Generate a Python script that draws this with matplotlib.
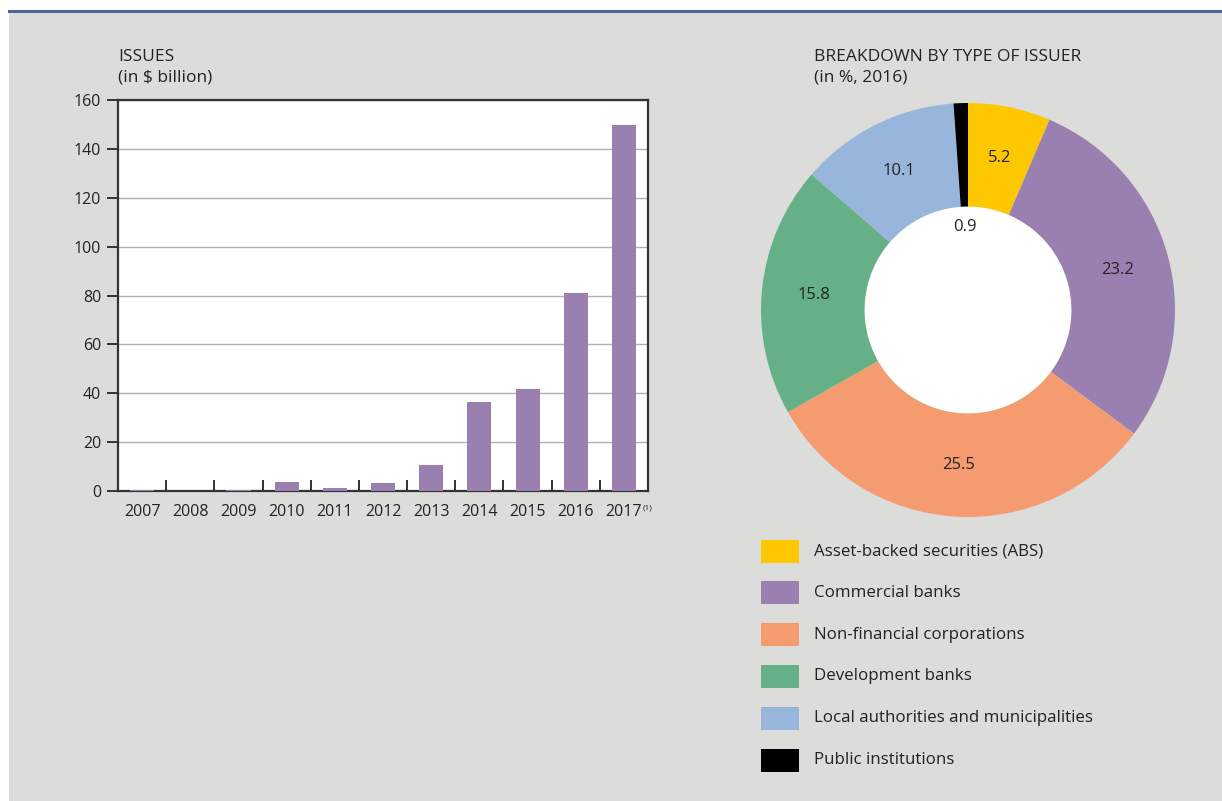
import matplotlib
matplotlib.use("Agg")
import matplotlib.pyplot as plt
from matplotlib.patches import Rectangle, Circle
from matplotlib.lines import Line2D
import numpy as np

plt.rcParams["font.family"] = ["Open Sans", "DejaVu Sans"]

# emissions annuelles (Md$)
years = ["2007", "2008", "2009", "2010", "2011", "2012", "2013", "2014", "2015", "2016", "2017"]
issues = [0.6, 0.1, 0.6, 3.6, 1.1, 3.2, 10.8, 36.5, 41.8, 80.9, 149.9]

# repartition 2016 par type d'emetteur
issuer_types = ["Asset-backed securities (ABS)", "Commercial banks", "Non-financial corporations",
                "Development banks", "Local authorities and municipalities", "Public institutions"]
shares = [5.2, 23.2, 25.5, 15.8, 10.1, 0.9]
share_labels = ["5.2", "23.2", "25.5", "15.8", "10.1", "0.9"]
colors = ["#fec800", "#9a80b0", "#f49c70", "#66b087", "#98b6db", "#000000"]

BG = "#dcdcdb"
TXT = "#222222"
W, H = 1222, 801

fig = plt.figure(figsize=(W / 100, H / 100), dpi=100)
fig.patch.set_facecolor("white")
fig.patches.append(Rectangle((9 / W, 0), 1, 1 - 12 / H, transform=fig.transFigure,
                             facecolor=BG, edgecolor="none", zorder=-10))
fig.lines.append(Line2D([9 / W, 1], [1 - 11 / H, 1 - 11 / H], transform=fig.transFigure,
                        color="#4a6797", lw=2.2))

# --- barres ---
ax = fig.add_axes([118 / W, 1 - 491 / H, 530 / W, 391 / H])
ax.set_facecolor("white")
x = list(range(len(years)))
ax.bar(x, issues, width=0.5, color=colors[1], zorder=3)
ax.set_xlim(-0.5, len(years) - 0.5)
ax.set_ylim(0, 160)
ax.set_yticks(range(0, 161, 20))
ax.yaxis.grid(True, color="#b0b0b0", lw=1)
ax.set_axisbelow(True)
for s in ax.spines.values():
    s.set_color("#333333")
    s.set_linewidth(1.6)
ax.tick_params(axis="y", direction="out", length=8, width=1.4, color="#333333",
               labelsize=11.5, labelcolor=TXT, pad=4)
ax.set_xticks(x)
ax.set_xticklabels(years)
ax.tick_params(axis="x", length=0, labelsize=11.5, labelcolor=TXT, pad=9)
ax.set_xticks([i + 0.5 for i in x[:-1]], minor=True)
ax.tick_params(axis="x", which="minor", direction="in", length=8, width=1.4, color="#333333")
ax.text(x[-1] + 0.38, -0.043, "(1)", transform=ax.get_xaxis_transform(),
        fontsize=6, color=TXT, va="center", ha="left")

fig.text(118 / W, 1 - 57 / H, "ISSUES", fontsize=12.5, color=TXT, va="center")
fig.text(118 / W, 1 - 77 / H, "(in $ billion)", fontsize=12.5, color=TXT, va="center")

# --- anneau ---
pax = fig.add_axes([761 / W, 1 - 517 / H, 414 / W, 414 / H])
pax.pie(shares, colors=colors, startangle=90, counterclock=False, radius=1,
        wedgeprops=dict(width=0.5, linewidth=0))
pax.add_patch(Circle((0, 0), 0.5, facecolor="white", edgecolor="none", zorder=0.5))
pax.set_xlim(-1, 1)
pax.set_ylim(-1, 1)
pax.set_aspect("equal")
pax.axis("off")

total = sum(shares)
ang = 90.0
for v, lab in zip(shares, share_labels):
    mid = np.deg2rad(ang - v / total * 180)
    r = 0.4 if v < 2 else 0.75
    pax.text(r * np.cos(mid), r * np.sin(mid), lab, ha="center", va="center",
             fontsize=12, color=TXT, zorder=5)
    ang -= v / total * 360

fig.text(814 / W, 1 - 57 / H, "BREAKDOWN BY TYPE OF ISSUER", fontsize=12.5, color=TXT, va="center")
fig.text(814 / W, 1 - 77 / H, "(in %, 2016)", fontsize=12.5, color=TXT, va="center")

# --- legende ---
for i, (name, c) in enumerate(zip(issuer_types, colors)):
    yc = 551 + i * 41.8
    fig.patches.append(Rectangle((761 / W, 1 - (yc + 11.5) / H), 38 / W, 23 / H,
                                 transform=fig.transFigure, facecolor=c, edgecolor="none"))
    fig.text(814 / W, 1 - yc / H, name, fontsize=12.2, color=TXT, va="center")

fig.savefig("out.png", dpi=100, facecolor=fig.get_facecolor())
